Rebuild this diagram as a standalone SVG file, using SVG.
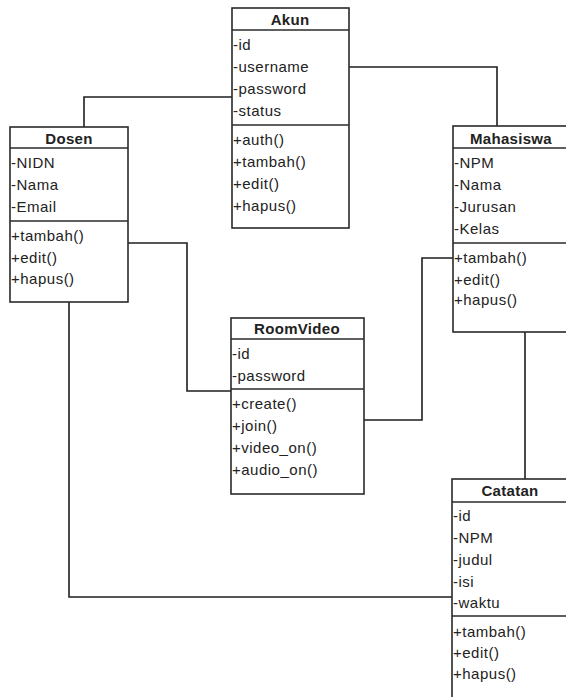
<svg xmlns="http://www.w3.org/2000/svg" width="566" height="697" viewBox="0 0 566 697">
<style>
.box{fill:#fff;stroke:#2a2a2a;stroke-width:1.6}
.div{stroke:#2a2a2a;stroke-width:1.6}
.conn{fill:none;stroke:#1e1e1e;stroke-width:1.6}
.h{font-family:"Liberation Sans",Arial,sans-serif;font-size:15px;font-weight:bold;fill:#222;text-anchor:middle;letter-spacing:0.3px}
.t{font-family:"Liberation Sans",Arial,sans-serif;font-size:15px;fill:#222;letter-spacing:0.5px}
</style>
<rect width="566" height="697" fill="#fff"/>
<g id="connectors">
<path class="conn" d="M232,97 H84 V127"/>
<path class="conn" d="M349,67 H497 V126"/>
<path class="conn" d="M128,243 H187 V391 H231"/>
<path class="conn" d="M364,420 H422 V258 H453"/>
<path class="conn" d="M525,332 V479"/>
<path class="conn" d="M69,302 V597 H452"/>
</g>
<g id="akun">
<rect class="box" x="232" y="8" width="117" height="220"/>
<line class="div" x1="232" y1="30" x2="349" y2="30"/>
<line class="div" x1="232" y1="125" x2="349" y2="125"/>
<text class="h" x="290" y="25">Akun</text>
<text class="t" x="233" y="50">-id</text>
<text class="t" x="233" y="72">-username</text>
<text class="t" x="233" y="94">-password</text>
<text class="t" x="233" y="116">-status</text>
<text class="t" x="233" y="145">+auth()</text>
<text class="t" x="233" y="167">+tambah()</text>
<text class="t" x="233" y="189">+edit()</text>
<text class="t" x="233" y="211">+hapus()</text>
</g>
<g id="dosen">
<rect class="box" x="10" y="127" width="118" height="175"/>
<line class="div" x1="10" y1="148" x2="128" y2="148"/>
<line class="div" x1="10" y1="221" x2="128" y2="221"/>
<text class="h" x="69" y="144">Dosen</text>
<text class="t" x="11" y="168">-NIDN</text>
<text class="t" x="11" y="190">-Nama</text>
<text class="t" x="11" y="212">-Email</text>
<text class="t" x="11" y="241">+tambah()</text>
<text class="t" x="11" y="263">+edit()</text>
<text class="t" x="11" y="284">+hapus()</text>
</g>
<g id="mahasiswa">
<rect class="box" x="453" y="126" width="120" height="206"/>
<line class="div" x1="453" y1="148" x2="573" y2="148"/>
<line class="div" x1="453" y1="243" x2="573" y2="243"/>
<text class="h" x="511" y="144">Mahasiswa</text>
<text class="t" x="454" y="168">-NPM</text>
<text class="t" x="454" y="190">-Nama</text>
<text class="t" x="454" y="212">-Jurusan</text>
<text class="t" x="454" y="234">-Kelas</text>
<text class="t" x="454" y="263">+tambah()</text>
<text class="t" x="454" y="285">+edit()</text>
<text class="t" x="454" y="305">+hapus()</text>
</g>
<g id="roomvideo">
<rect class="box" x="231" y="318" width="133" height="176"/>
<line class="div" x1="231" y1="339" x2="364" y2="339"/>
<line class="div" x1="231" y1="389" x2="364" y2="389"/>
<text class="h" x="297" y="334">RoomVideo</text>
<text class="t" x="232" y="359">-id</text>
<text class="t" x="232" y="381">-password</text>
<text class="t" x="232" y="409">+create()</text>
<text class="t" x="232" y="431">+join()</text>
<text class="t" x="232" y="453">+video_on()</text>
<text class="t" x="232" y="475">+audio_on()</text>
</g>
<g id="catatan">
<rect class="box" x="452" y="479" width="121" height="230"/>
<line class="div" x1="452" y1="502" x2="573" y2="502"/>
<line class="div" x1="452" y1="616" x2="573" y2="616"/>
<text class="h" x="510" y="496">Catatan</text>
<text class="t" x="453" y="521">-id</text>
<text class="t" x="453" y="543">-NPM</text>
<text class="t" x="453" y="565">-judul</text>
<text class="t" x="453" y="587">-isi</text>
<text class="t" x="453" y="608">-waktu</text>
<text class="t" x="453" y="637">+tambah()</text>
<text class="t" x="453" y="658">+edit()</text>
<text class="t" x="453" y="679">+hapus()</text>
</g>
</svg>
